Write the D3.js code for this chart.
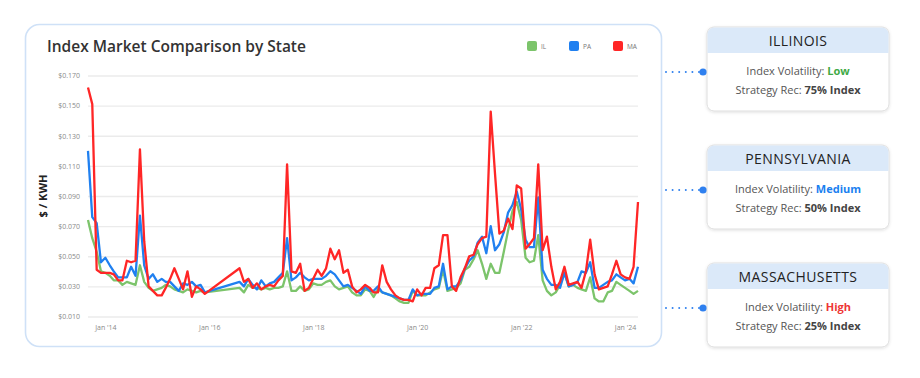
<!DOCTYPE html>
<html>
<head>
<meta charset="utf-8">
<script src="https://cdn.jsdelivr.net/npm/d3@7"></script>
<style>
  body { margin: 0; background: #fff; font-family: "Open Sans", sans-serif; }
</style>
</head>
<body>
<svg id="chart" width="920" height="378"></svg>
<script>
// categories / series
const seriesNames = ['IL', 'PA', 'MA'];
const seriesColors = ['#7cc46b', '#2080f0', '#ff2626'];
const months = d3.timeMonth.range(new Date(2013, 8, 1), new Date(2024, 4, 1)); // Sep 2013 .. Apr 2024

// $ / kWh, one value per month, null = no reading that month
const il = [
  0.074, 0.062, 0.053, 0.040, 0.039, 0.037, 0.034, 0.034, 0.031, 0.033, 0.032, 0.031, 0.044, 0.033, 0.029, 0.027,
  0.028, 0.029, 0.031, 0.030, 0.028, 0.027, 0.026, 0.028, 0.027, 0.026, 0.027, 0.026, null, null, null, null,
  null, null, null, 0.029, 0.026, 0.031, 0.029, 0.029, 0.028, 0.029, 0.028, 0.029, 0.029, 0.030, 0.040, 0.027,
  0.027, 0.030, 0.027, 0.028, 0.032, 0.031, 0.031, 0.033, 0.034, 0.030, 0.028, 0.029, 0.030, 0.026, 0.024, 0.024,
  0.028, 0.027, 0.023, 0.028, 0.026, 0.025, 0.024, 0.022, 0.020, 0.019, 0.019, 0.027, 0.024, 0.024, 0.024, 0.026,
  0.028, 0.029, 0.041, 0.027, 0.028, 0.029, 0.032, 0.041, 0.043, 0.048, 0.054, 0.045, 0.035, 0.045, 0.039, 0.039,
  0.053, 0.067, 0.080, 0.086, 0.074, 0.049, 0.046, 0.047, 0.064, 0.034, 0.027, 0.024, 0.026, 0.031, 0.039, 0.030,
  0.031, 0.029, 0.028, 0.027, 0.036, 0.022, 0.020, 0.020, 0.026, 0.027, 0.033, 0.031, 0.029, 0.027, 0.025, 0.027
];
const pa = [
  0.120, 0.076, 0.072, 0.046, 0.049, 0.044, 0.040, 0.036, 0.036, 0.036, 0.043, 0.037, 0.077, 0.044, 0.035, 0.038,
  0.033, 0.035, 0.033, 0.033, 0.030, 0.027, 0.032, 0.031, 0.033, 0.030, 0.031, 0.026, null, null, null, null,
  null, null, null, 0.033, 0.030, 0.035, 0.031, 0.028, 0.034, 0.030, 0.032, 0.033, 0.036, 0.039, 0.062, 0.034,
  0.036, 0.039, 0.036, 0.034, 0.035, 0.035, 0.035, 0.037, 0.040, 0.038, 0.034, 0.030, 0.031, 0.029, 0.027, 0.025,
  0.030, 0.027, 0.027, 0.030, 0.026, 0.025, 0.024, 0.023, 0.022, 0.021, 0.021, 0.028, 0.024, 0.025, 0.025, 0.025,
  0.029, 0.030, 0.045, 0.028, 0.030, 0.030, 0.034, 0.042, 0.047, 0.050, 0.059, 0.063, 0.052, 0.070, 0.054, 0.058,
  0.066, 0.079, 0.084, 0.093, 0.081, 0.061, 0.056, 0.056, 0.089, 0.041, 0.035, 0.031, 0.031, 0.029, 0.039, 0.030,
  0.031, 0.033, 0.040, 0.039, 0.046, 0.029, 0.029, 0.031, 0.033, 0.034, 0.038, 0.036, 0.034, 0.035, 0.032, 0.043
];
const ma = [
  0.162, 0.151, 0.041, 0.039, 0.039, 0.039, 0.038, 0.034, 0.034, 0.047, 0.046, 0.047, 0.121, 0.060, 0.030, 0.027,
  0.024, 0.024, 0.029, 0.035, 0.042, 0.035, 0.028, 0.040, 0.023, 0.030, 0.028, 0.025, null, null, null, null,
  null, null, null, 0.042, 0.033, 0.035, 0.029, 0.032, 0.028, 0.030, 0.031, 0.030, 0.034, 0.037, 0.111, 0.040,
  0.039, 0.045, 0.027, 0.029, 0.035, 0.041, 0.037, 0.042, 0.055, 0.048, 0.054, 0.039, 0.041, 0.030, 0.026, 0.028,
  0.031, 0.029, 0.026, 0.026, 0.044, 0.033, 0.028, 0.024, 0.022, 0.021, 0.021, 0.020, 0.028, 0.024, 0.029, 0.029,
  0.042, 0.044, 0.064, 0.064, 0.030, 0.027, 0.036, 0.042, 0.050, 0.051, 0.058, 0.062, 0.063, 0.146, 0.105, 0.065,
  0.067, 0.075, 0.068, 0.097, 0.095, 0.055, 0.058, 0.062, 0.111, 0.054, 0.063, 0.043, 0.028, 0.033, 0.043, 0.031,
  0.032, 0.033, 0.029, 0.040, 0.061, 0.038, 0.028, 0.029, 0.030, 0.038, 0.047, 0.038, 0.036, 0.035, 0.043, 0.086
];

const yTicks = [0.010, 0.030, 0.050, 0.070, 0.090, 0.110, 0.130, 0.150, 0.170];
const xTicks = ['2014-01-01', '2016-01-01', '2018-01-01', '2020-01-01', '2022-01-01', '2024-01-01'];

// side cards
const states = ['ILLINOIS', 'PENNSYLVANIA', 'MASSACHUSETTS'];
const volatility = ['Low', 'Medium', 'High'];
const volatilityColors = ['#3faa45', '#1a7ff0', '#ee3535'];
const strategy = ['75% Index', '50% Index', '25% Index'];

const svg = d3.select('#chart');
const margin = { top: 75.5, right: 282, bottom: 61.5, left: 88 };
const W = 920, H = 378;

const defs = svg.append('defs');
const sh = defs.append('filter').attr('id', 'soft').attr('x', '-10%').attr('y', '-10%').attr('width', '120%').attr('height', '130%');
sh.append('feDropShadow').attr('dx', 0).attr('dy', 1).attr('stdDeviation', 1.5).attr('flood-color', '#000').attr('flood-opacity', 0.12);

// chart card
svg.append('rect')
  .attr('x', 25.5).attr('y', 24.5).attr('width', 636).attr('height', 322).attr('rx', 14)
  .attr('fill', '#fff').attr('stroke', '#cfe1f7').attr('stroke-width', 1.6);

svg.append('text')
  .attr('x', 47).attr('y', 52)
  .attr('font-size', 15.5).attr('font-weight', 600).attr('fill', '#333')
  .text('Index Market Comparison by State');

// legend
const legend = svg.append('g').selectAll('g').data(seriesNames).join('g')
  .attr('transform', (d, i) => `translate(${[527, 569, 613][i]},41)`);
legend.append('rect').attr('width', 10).attr('height', 10).attr('rx', 2).attr('fill', (d, i) => seriesColors[i]);
legend.append('text').attr('x', 14).attr('y', 8).attr('font-size', 6.5).attr('fill', '#777').text(d => d);

const x = d3.scaleTime().domain([months[0], months[months.length - 1]]).range([margin.left, W - margin.right]);
const y = d3.scaleLinear().domain([0.01, 0.17]).range([H - margin.bottom, margin.top]);

// y axis + grid
const yAxis = svg.append('g')
  .attr('transform', `translate(${margin.left},0)`)
  .call(d3.axisLeft(y).tickValues(yTicks).tickSize(-(W - margin.right - margin.left)).tickPadding(8)
    .tickFormat(d => '$' + d.toFixed(3)));
yAxis.select('.domain').remove();
yAxis.selectAll('line').attr('stroke', '#ebebeb').attr('stroke-width', 1.3);
yAxis.selectAll('text').attr('font-size', 7).attr('fill', '#8a8a8a').attr('font-family', '"Open Sans", sans-serif');

// x axis
const xAxis = svg.append('g')
  .attr('transform', `translate(0,${H - margin.bottom})`)
  .call(d3.axisBottom(x).tickValues(xTicks.map(d => new Date(d + 'T00:00:00'))).tickSize(0).tickPadding(9)
    .tickFormat(d3.timeFormat("Jan '%y")));
xAxis.select('.domain').remove();
xAxis.selectAll('text').attr('font-size', 7).attr('fill', '#8a8a8a').attr('font-family', '"Open Sans", sans-serif');

svg.append('text')
  .attr('transform', 'translate(47,196) rotate(-90)')
  .attr('text-anchor', 'middle')
  .attr('font-size', 11).attr('font-weight', 700).attr('fill', '#222')
  .text('$ / KWH');

// lines
const line = d3.line().x(d => x(d.date)).y(d => y(d.value));
[il, pa, ma].forEach((vals, i) => {
  const pts = vals.map((v, j) => ({ date: months[j], value: v })).filter(d => d.value != null);
  svg.append('path')
    .datum(pts)
    .attr('d', line)
    .attr('fill', 'none')
    .attr('stroke', seriesColors[i])
    .attr('stroke-width', 2.3)
    .attr('stroke-linejoin', 'round');
});

// side cards with connectors
const cardTops = [27, 145, 263];
const cards = svg.append('g').selectAll('g').data(states).join('g')
  .attr('transform', (d, i) => `translate(707,${cardTops[i]})`);

cards.append('rect').attr('width', 182).attr('height', 84).attr('rx', 7)
  .attr('fill', '#fff').attr('stroke', '#dedede').attr('filter', 'url(#soft)');
cards.append('path')
  .attr('d', 'M0.5,26 V7 A6.5,6.5 0 0 1 7,0.5 H175 A6.5,6.5 0 0 1 181.5,7 V26 Z')
  .attr('fill', '#dbe9f9');
cards.append('text').attr('x', 91).attr('y', 18.5).attr('text-anchor', 'middle')
  .attr('font-size', 14).attr('fill', '#222').attr('letter-spacing', 0.4).text(d => d);

const l1 = cards.append('text').attr('x', 91).attr('y', 48).attr('text-anchor', 'middle')
  .attr('font-size', 11).attr('fill', '#555');
l1.append('tspan').text('Index Volatility: ');
l1.append('tspan').attr('font-weight', 700).attr('fill', (d, i) => volatilityColors[i]).text((d, i) => volatility[i]);

const l2 = cards.append('text').attr('x', 91).attr('y', 67).attr('text-anchor', 'middle')
  .attr('font-size', 11).attr('fill', '#555');
l2.append('tspan').text('Strategy Rec: ');
l2.append('tspan').attr('font-weight', 700).attr('fill', '#444').text((d, i) => strategy[i]);

cards.append('line').attr('x1', -41).attr('x2', -6).attr('y1', 45).attr('y2', 45)
  .attr('stroke', '#2f80ef').attr('stroke-width', 2).attr('stroke-linecap', 'round')
  .attr('stroke-dasharray', '0 6.6');
cards.append('circle').attr('cx', -4).attr('cy', 45).attr('r', 3.6).attr('fill', '#2f80ef');
</script>
</body>
</html>
